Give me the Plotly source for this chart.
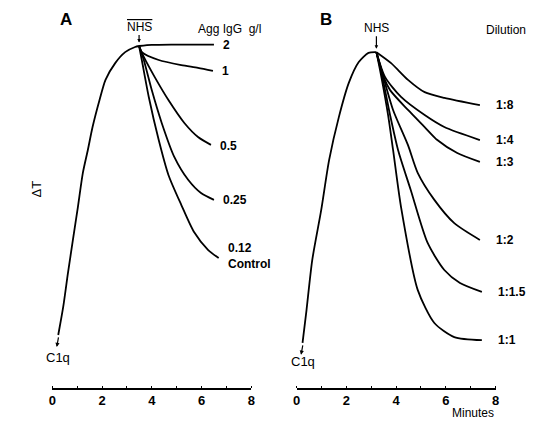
import plotly.graph_objects as go

# ---------------- Data (minutes, ΔT arbitrary units) ----------------
# Panel A
a_rise_t = [0.24, 0.44, 0.63, 0.83, 1.03, 1.23, 1.43, 1.62, 1.90, 2.14, 2.53, 2.93, 3.33, 3.49]
a_rise_v = [15.5, 23.7, 33.6, 43.3, 52.9, 62.9, 69.6, 76.3, 84.2, 90.1, 95.0, 98.2, 99.7, 100]

a_labels = ["2", "1", "0.5", "0.25", "0.12<br>Control"]
a_t = [
    [3.49, 4.0, 4.79, 6.5],
    [3.49, 3.6, 4.28, 5.19, 5.86, 6.46],
    [3.49, 3.68, 4.12, 4.67, 5.31, 5.86, 6.38],
    [3.49, 3.68, 4.0, 4.40, 4.91, 5.47, 5.98, 6.50],
    [3.49, 3.6, 3.88, 4.28, 4.67, 5.19, 5.7, 6.26, 6.69],
]
a_v = [
    [100, 100.3, 100.4, 100.4],
    [100, 98.2, 95.9, 94.4, 93.6, 92.7],
    [100, 96.8, 90.9, 84.2, 77.5, 73.4, 71.1],
    [100, 95.9, 87.1, 77.5, 67.5, 60.8, 57.0, 55.0],
    [100, 95.9, 85.1, 72.5, 62.3, 53.5, 45.6, 40.4, 38.0],
]
a_label_yshift = [0, 0, -1, 0, 2]

# Panel B
b_rise_t = [0.24, 0.40, 0.63, 0.99, 1.31, 1.70, 2.10, 2.50, 2.89, 3.21]
b_rise_v = [13.2, 22.8, 37.4, 52.0, 66.7, 79.2, 89.2, 95.3, 98, 98.2]

b_labels = ["1:8", "1:4", "1:3", "1:2", "1:1.5", "1:1"]
b_t = [
    [3.21, 3.80, 4.48, 5.15, 5.94, 7.37],
    [3.21, 3.56, 4.2, 5.15, 5.94, 7.37],
    [3.21, 3.52, 3.76, 4.48, 5.15, 5.66, 6.46, 7.37],
    [3.21, 3.49, 3.88, 4.48, 4.87, 5.54, 6.34, 7.37],
    [3.21, 3.45, 3.76, 4.08, 4.59, 5.27, 5.94, 6.57, 7.45],
    [3.21, 3.41, 3.68, 3.88, 4.2, 4.87, 5.54, 6.34, 7.45],
]
b_v = [
    [98.2, 95, 90.1, 86.5, 84.8, 82.7],
    [98.2, 90.9, 85.1, 79.8, 76.3, 72.5],
    [98.2, 90.6, 87.1, 81.3, 76.3, 72.5, 68.7, 66.1],
    [98.2, 90.9, 81.3, 71, 62.9, 55, 48.2, 43.3],
    [98.2, 90.9, 79.8, 69.6, 57.9, 42.4, 34.5, 30.7, 28.1],
    [98.2, 90.9, 79.8, 69.6, 52.9, 28.7, 19, 14.9, 14],
]

x_ticks = [0, 2, 4, 6, 8]

# ---------------- Figure ----------------
W, H = 536, 421
FONT = "Liberation Sans"
LW = 1.8
Y_TOP = 388 / 3.42

fig = go.Figure()

def add_curve(t, v, xa):
    fig.add_trace(go.Scatter(x=t, y=v, mode="lines", xaxis=xa, yaxis="y",
                             line=dict(color="black", width=LW, shape="spline", smoothing=0.7),
                             hoverinfo="skip", showlegend=False))

add_curve(a_rise_t, a_rise_v, "x")
for t, v in zip(a_t, a_v):
    add_curve(t, v, "x")
add_curve(b_rise_t, b_rise_v, "x2")
for t, v in zip(b_t, b_v):
    add_curve(t, v, "x2")

ann = []
# curve labels
for t, v, lab, ys in zip(a_t, a_v, a_labels, a_label_yshift):
    ann.append(dict(x=t[-1], y=v[-1], xref="x", yref="y", text="<b>%s</b>" % lab,
                    showarrow=False, xanchor="left", xshift=7, yshift=ys,
                    align="left", font=dict(size=12, family=FONT, color="black")))
for t, v, lab in zip(b_t, b_v, b_labels):
    ann.append(dict(x=t[-1], y=v[-1], xref="x2", yref="y", text="<b>%s</b>" % lab,
                    showarrow=False, xanchor="left", xshift=14, yshift=0,
                    font=dict(size=12, family=FONT, color="black")))

# NHS arrows at the peaks
ann.append(dict(x=a_rise_t[-1], y=a_rise_v[-1] + 1, xref="x", yref="y",
                text="<span style='text-decoration:overline'>NHS</span>",
                showarrow=True, arrowhead=2, arrowsize=0.6, arrowwidth=1.2, arrowcolor="black",
                ax=0, ay=-16, font=dict(size=12, family=FONT, color="black")))
ann.append(dict(x=b_rise_t[-1], y=b_rise_v[-1] + 1, xref="x2", yref="y", text="NHS",
                showarrow=True, arrowhead=2, arrowsize=0.6, arrowwidth=1.2, arrowcolor="black",
                ax=0, ay=-21, font=dict(size=12, family=FONT, color="black")))

# C1q arrows at curve starts (pointing down to the label)
for t0, v0, xr, lab_shift in [(a_rise_t[0], a_rise_v[0], "x", -23), (b_rise_t[0], b_rise_v[0], "x2", -19)]:
    ann.append(dict(x=t0 - 0.06, y=v0 - 3.5, xref=xr, yref="y", text="", showarrow=True,
                    arrowhead=2, arrowsize=0.7, arrowwidth=1.2, arrowcolor="black",
                    ax=2, ay=-11))
    ann.append(dict(x=t0, y=v0, xref=xr, yref="y", text="C1q", showarrow=False,
                    yshift=lab_shift, xanchor="center",
                    font=dict(size=13, family=FONT, color="black")))

# header texts (paper coords)
def ptxt(px, py, text, size=12, anchor="center", bold=False, angle=0):
    ann.append(dict(x=px / W, y=1 - py / H, xref="paper", yref="paper",
                    text=("<b>%s</b>" % text) if bold else text, showarrow=False,
                    xanchor=anchor, yanchor="middle", textangle=angle,
                    font=dict(size=size, family=FONT, color="black")))

ptxt(63, 19, "A", size=17, bold=True)
ptxt(327, 19, "B", size=17, bold=True)
ptxt(195, 29, "Agg IgG  g/l", size=12, anchor="left")
ptxt(487, 30, "Dilution", size=12, anchor="left")
ptxt(476, 413, "Minutes", size=12)
ptxt(34, 189, "ΔT", size=13, angle=-90)

axis_common = dict(range=[0, 8], tickvals=x_ticks, ticktext=[str(v) for v in x_ticks],
                   showline=True, linecolor="black", linewidth=1.5,
                   ticks="", showgrid=False, zeroline=False,
                   tickfont=dict(size=13, family=FONT, color="black", weight="bold"),
                   minor=dict(dtick=1, ticks="inside", ticklen=2, tickcolor="black"),
                   fixedrange=True)

fig.update_layout(
    width=W, height=H, margin=dict(l=0, r=0, t=0, b=0),
    paper_bgcolor="white", plot_bgcolor="white",
    xaxis=dict(domain=[49 / W, 251 / W], anchor="y", **axis_common),
    xaxis2=dict(domain=[297 / W, 499 / W], anchor="y", **axis_common),
    yaxis=dict(domain=[(H - 388) / H, 1], range=[0, Y_TOP], visible=False, fixedrange=True),
    annotations=ann, showlegend=False,
)

fig.write_html("out.html")
